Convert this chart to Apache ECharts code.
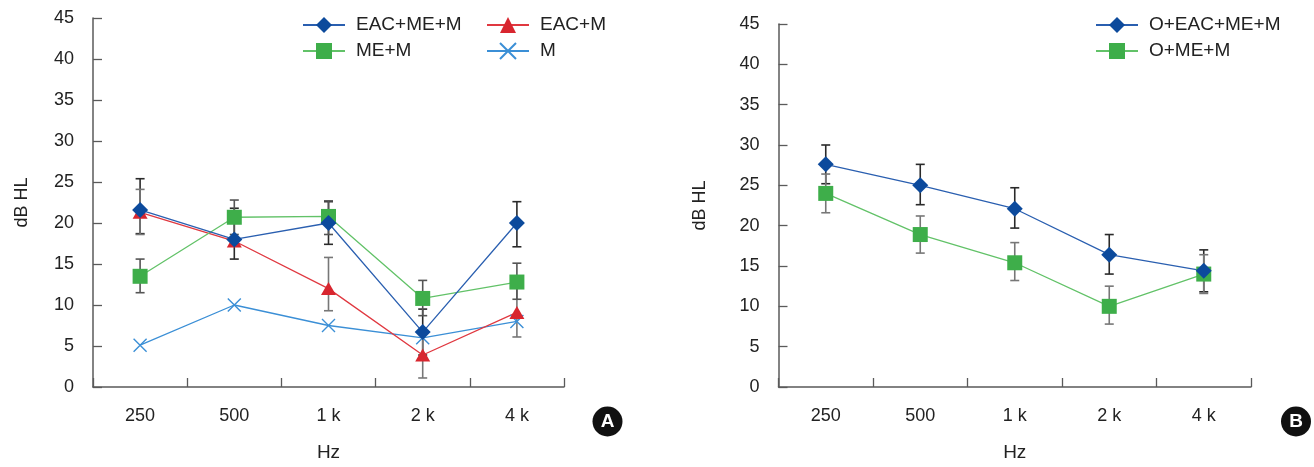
<!DOCTYPE html>
<html>
<head>
<meta charset="utf-8">
<script src="https://cdn.jsdelivr.net/npm/echarts@6/dist/echarts.min.js"></script>
<style>
html,body{margin:0;padding:0;background:#fff;}
#chart{width:1314px;height:467px;}
</style>
</head>
<body>
<div id="chart"></div>
<script>
// ---------- DATA ----------
const freqLabels = ['250', '500', '1 k', '2 k', '4 k'];
const yTicks = [0, 5, 10, 15, 20, 25, 30, 35, 40, 45];

// Panel A
const eacMeM      = [21.6, 18.0, 20.0, 6.7, 20.0];
const eacM        = [21.3, 17.8, 12.0, 3.9, 9.1];
const meM         = [13.5, 20.7, 20.8, 10.8, 12.8];
const mOnly       = [5.1, 10.0, 7.5, 6.0, 8.0];
const eacMeMErr   = [[18.7, 25.4], [15.6, 21.8], [17.4, 22.6], [3.9, 9.5], [17.1, 22.6]];
const eacMErr     = [[18.6, 24.1], null, [9.3, 15.8], [1.1, 6.7], [6.1, 12.1]];
const meMErr      = [[11.5, 15.6], [18.6, 22.8], [18.6, 22.7], [8.7, 13.0], [10.7, 15.1]];

// Panel B
const oEacMeM     = [27.6, 25.0, 22.1, 16.4, 14.4];
const oMeM        = [24.0, 18.9, 15.4, 10.0, 14.0];
const oEacMeMErr  = [[25.2, 30.0], [22.6, 27.6], [19.7, 24.7], [14.0, 18.9], [11.8, 17.0]];
const oMeMErr     = [[21.6, 26.4], [16.6, 21.2], [13.2, 17.9], [7.8, 12.5], [11.6, 16.4]];

// ---------- STYLE ----------
const FONT = 'Liberation Sans, Arial, Helvetica, sans-serif';
const BLUE = '#0c4a9c', BLUE_LINE = '#2a5fb0';
const GREEN = '#3eae4a', GREEN_LINE = '#62c268';
const RED = '#d8262f', RED_LINE = '#e03840';
const LBLUE = '#3b8fd6';
const AXIS = '#5a5a5a';

function errData(arr) {
  const out = [];
  arr.forEach((e, i) => { if (e) out.push([i, e[0], e[1]]); });
  return out;
}
function errSeries(name, arr, axisIdx, color) {
  return {
    type: 'custom', name: name, xAxisIndex: axisIdx, yAxisIndex: axisIdx, z: 1,
    silent: true,
    encode: { x: 0, y: [1, 2] },
    data: errData(arr),
    renderItem: function (params, api) {
      const x = api.value(0);
      const lo = api.coord([x, api.value(1)]);
      const hi = api.coord([x, api.value(2)]);
      const w = 4.5;
      const st = { stroke: color, lineWidth: 1.6 };
      return {
        type: 'group',
        children: [
          { type: 'line', shape: { x1: lo[0], y1: lo[1], x2: hi[0], y2: hi[1] }, style: st },
          { type: 'line', shape: { x1: lo[0] - w, y1: lo[1], x2: lo[0] + w, y2: lo[1] }, style: st },
          { type: 'line', shape: { x1: hi[0] - w, y1: hi[1], x2: hi[0] + w, y2: hi[1] }, style: st }
        ]
      };
    }
  };
}
function lineSeries(name, data, axisIdx, symbol, size, color, lineColor, extraItem) {
  return {
    type: 'line', name: name, xAxisIndex: axisIdx, yAxisIndex: axisIdx, z: 3,
    data: data, symbol: symbol, symbolSize: size, showSymbol: true,
    lineStyle: { color: lineColor, width: 1.3 },
    itemStyle: Object.assign({ color: color }, extraItem || {}),
    emphasis: { disabled: true },
    animation: false
  };
}
const XSYM = 'path://M0,0L10,10M10,0L0,10';

function xAxisCfg(gi) {
  return {
    type: 'category', gridIndex: gi, data: freqLabels, boundaryGap: true,
    name: 'Hz', nameLocation: 'middle', nameGap: 56,
    nameTextStyle: { fontFamily: FONT, fontSize: 19, color: '#222' },
    axisLine: { show: true, lineStyle: { color: AXIS, width: 1.5 } },
    axisTick: { show: true, inside: true, alignWithLabel: false, interval: 0, length: 9, lineStyle: { color: AXIS, width: 1.3 } },
    axisLabel: { show: true, interval: 0, fontFamily: FONT, fontSize: 18, color: '#222', margin: 20 },
    splitLine: { show: false }
  };
}
function yAxisCfg(gi, gap) {
  return {
    type: 'value', gridIndex: gi, min: 0, max: 45, interval: 5,
    name: 'dB HL', nameLocation: 'middle', nameGap: gap, nameRotate: 90,
    nameTextStyle: { fontFamily: FONT, fontSize: 18, color: '#222' },
    axisLine: { show: true, lineStyle: { color: AXIS, width: 1.5 } },
    axisTick: { show: true, inside: true, length: 9, lineStyle: { color: AXIS, width: 1.3 } },
    axisLabel: { fontFamily: FONT, fontSize: 18, color: '#222', margin: 19,
      formatter: v => (yTicks.indexOf(v) >= 0 ? String(v) : '') },
    splitLine: { show: false }
  };
}
const legendText = { fontFamily: FONT, fontSize: 19, color: '#222', lineHeight: 20, padding: [0, 0, 0, 6] };
function legendCfg(names, left) {
  return {
    data: names, orient: 'vertical', left: left, top: 10, itemGap: 6,
    itemWidth: 42, itemHeight: 20, textStyle: legendText, selectedMode: false
  };
}

const chart = echarts.init(document.getElementById('chart'), null, { renderer: 'canvas' });
chart.setOption({
  backgroundColor: '#fff',
  animation: false,
  grid: [
    { left: 93, top: 18, width: 471, height: 370.5, containLabel: false },
    { left: 778.5, top: 24, width: 472.5, height: 368, containLabel: false }
  ],
  xAxis: [xAxisCfg(0), xAxisCfg(1)],
  yAxis: [yAxisCfg(0, 62), yAxisCfg(1, 69)],
  legend: [
    legendCfg(['EAC+ME+M', 'ME+M'], 297),
    legendCfg(['EAC+M', 'M'], 481),
    legendCfg(['O+EAC+ME+M', 'O+ME+M'], 1090)
  ],
  series: [
    errSeries('errA1', eacMeMErr, 0, '#2a2a2a'),
    errSeries('errA2', eacMErr, 0, '#777'),
    errSeries('errA3', meMErr, 0, '#555'),
    lineSeries('M', mOnly, 0, XSYM, 13, LBLUE, LBLUE, { color: 'rgba(0,0,0,0)', borderColor: LBLUE, borderWidth: 1.4 }),
    lineSeries('EAC+M', eacM, 0, 'triangle', [15, 13], RED, RED_LINE),
    lineSeries('ME+M', meM, 0, 'rect', 15, GREEN, GREEN_LINE),
    lineSeries('EAC+ME+M', eacMeM, 0, 'diamond', 16, BLUE, BLUE_LINE),

    errSeries('errB1', oEacMeMErr, 1, '#2a2a2a'),
    errSeries('errB2', oMeMErr, 1, '#777'),
    lineSeries('O+ME+M', oMeM, 1, 'rect', 15, GREEN, GREEN_LINE),
    lineSeries('O+EAC+ME+M', oEacMeM, 1, 'diamond', 16, BLUE, BLUE_LINE)
  ],
  graphic: [
    { type: 'circle', shape: { cx: 607.5, cy: 421.5, r: 15 }, style: { fill: '#111' } },
    { type: 'text', x: 607.5, y: 422, style: { text: 'A', fill: '#fff', font: 'bold 19px ' + FONT, align: 'center', verticalAlign: 'middle' } },
    { type: 'circle', shape: { cx: 1296, cy: 421.5, r: 15 }, style: { fill: '#111' } },
    { type: 'text', x: 1296, y: 422, style: { text: 'B', fill: '#fff', font: 'bold 19px ' + FONT, align: 'center', verticalAlign: 'middle' } }
  ]
});
</script>
</body>
</html>
